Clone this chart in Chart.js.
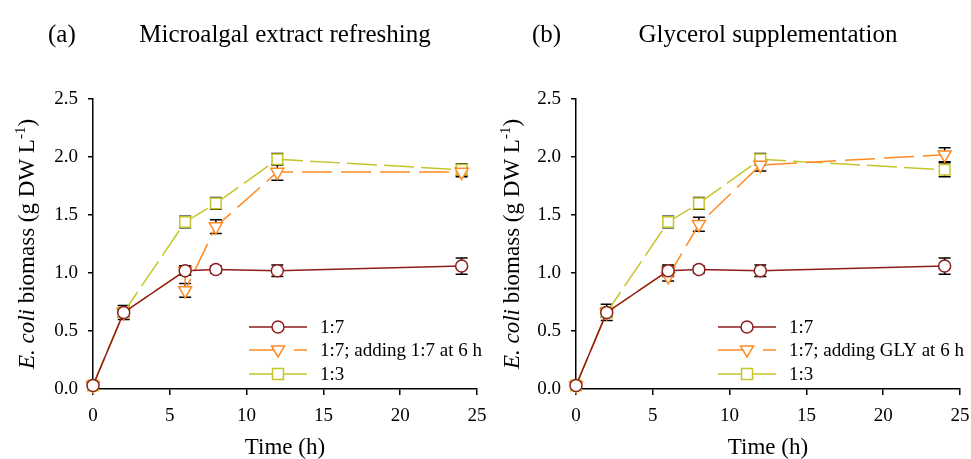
<!DOCTYPE html>
<html>
<head>
<meta charset="utf-8">
<script src="https://cdn.jsdelivr.net/npm/chart.js@4.4.1/dist/chart.umd.min.js"></script>
<style>
  html, body { margin: 0; background: #fff; overflow: hidden; }
  .panel { position: absolute; top: 0; height: 459px; }
  #pa { left: 0; width: 520px; }
  #pb { left: 485px; width: 500px; }
</style>
</head>
<body>
<div class="panel" id="pa"><canvas id="chartA"></canvas></div>
<div class="panel" id="pb"><canvas id="chartB"></canvas></div>
<script>
// sampling times (h)
const times = [0, 2, 6, 8, 12, 24];
const timesAdd = [0, 2, 6, 6, 8, 12, 24]; // two readings at 6 h (before / after addition)

// panel (a) Microalgal extract refreshing
const a_r17 = [0.03, 0.66, 1.02, 1.03, 1.02, 1.06];
const a_r17Err = [0.02, 0.06, 0.04, 0.03, 0.05, 0.07];
const a_add = [0.03, 0.66, 1.02, 0.85, 1.40, 1.87, 1.87];
const a_addErr = [0.02, 0.04, 0.04, 0.06, 0.06, 0.07, 0.04];
const a_r13 = [0.03, 0.66, 1.44, 1.60, 1.98, 1.89];
const a_r13Err = [0.02, 0.04, 0.05, 0.05, 0.05, 0.05];

// panel (b) Glycerol supplementation
const b_r17 = [0.03, 0.66, 1.02, 1.03, 1.02, 1.06];
const b_r17Err = [0.02, 0.07, 0.05, 0.03, 0.05, 0.07];
const b_add = [0.03, 0.66, 1.02, 0.97, 1.42, 1.93, 2.02];
const b_addErr = [0.02, 0.04, 0.04, 0.04, 0.06, 0.05, 0.06];
const b_r13 = [0.03, 0.66, 1.44, 1.60, 1.98, 1.89];
const b_r13Err = [0.02, 0.04, 0.05, 0.05, 0.05, 0.06];

const xTicks = [0, 5, 10, 15, 20, 25];
const yTicks = [0, 0.5, 1.0, 1.5, 2.0, 2.5];

const RED = '#8e1e1e', ORANGE = '#ff8a22', YG = '#c5c52a';
const SERIF = '"Liberation Serif", "Times New Roman", serif';

function pts(xs, ys) { return xs.map((x, i) => ({ x: x, y: ys[i] })); }

function makeSets(r17, r17e, add, adde, r13, r13e, addLabel) {
  return [
    { label: '1:7', data: pts(times, r17), err: r17e, borderColor: RED, pointStyle: 'circle', pointRadius: 6, borderDash: [] },
    { label: addLabel, data: pts(timesAdd, add), err: adde, borderColor: ORANGE, pointStyle: 'triangle', rotation: 180, pointRadius: 7.5, borderDash: [30, 9] },
    { label: '1:3', data: pts(times, r13), err: r13e, borderColor: YG, pointStyle: 'rect', pointRadius: 7.5, borderDash: [30, 7] }
  ].map(d => Object.assign({
    backgroundColor: '#fff', pointBackgroundColor: '#fff', pointBorderColor: d.borderColor,
    borderWidth: 1.5, pointBorderWidth: 1.5, tension: 0, clip: false
  }, d));
}

// error bars drawn through the scales
const errorBars = {
  id: 'errorBars',
  beforeDatasetsDraw(chart) {
    const ctx = chart.ctx, xs = chart.scales.x, ys = chart.scales.y;
    ctx.save();
    ctx.strokeStyle = '#000';
    ctx.lineWidth = 1.5;
    chart.data.datasets.forEach(ds => {
      ds.data.forEach((p, i) => {
        const e = ds.err[i];
        if (!e) return;
        const px = xs.getPixelForValue(p.x);
        const y1 = ys.getPixelForValue(p.y - e), y2 = ys.getPixelForValue(p.y + e);
        ctx.beginPath();
        ctx.moveTo(px, y1); ctx.lineTo(px, y2);
        ctx.moveTo(px - 6, y1); ctx.lineTo(px + 6, y1);
        ctx.moveTo(px - 6, y2); ctx.lineTo(px + 6, y2);
        ctx.stroke();
      });
    });
    ctx.restore();
  }
};

// titles, y-axis title with italic part, legend
const decorations = {
  id: 'decorations',
  afterDraw(chart) {
    const o = chart.options.plugins.decorations;
    const ctx = chart.ctx, ca = chart.chartArea;
    ctx.save();
    ctx.fillStyle = '#000';
    ctx.textBaseline = 'alphabetic';
    ctx.font = '25px ' + SERIF;
    ctx.textAlign = 'left';
    ctx.fillText(o.letter, o.letterX, 42);
    ctx.textAlign = 'center';
    ctx.fillText(o.title, o.titleX, 42);

    // y axis title
    ctx.translate(34, (ca.top + ca.bottom) / 2);
    ctx.rotate(-Math.PI / 2);
    const parts = [
      { t: 'E. coli', f: 'italic 23px ' + SERIF },
      { t: ' biomass (g DW L', f: '23px ' + SERIF },
      { t: '-1', f: '15px ' + SERIF, sup: true },
      { t: ')', f: '23px ' + SERIF }
    ];
    let w = 0;
    parts.forEach(p => { ctx.font = p.f; p.w = ctx.measureText(p.t).width; w += p.w; });
    let x = -w / 2;
    ctx.textAlign = 'left';
    parts.forEach(p => {
      ctx.font = p.f;
      ctx.fillText(p.t, x, p.sup ? -9 : 0);
      x += p.w;
    });
    ctx.setTransform(1, 0, 0, 1, 0, 0);

    // legend
    const lx0 = ca.left + o.legX, lx1 = lx0 + 58, mx = lx0 + 29, tx = lx0 + 71;
    const rows = [327, 350, 374];
    ctx.font = '19px ' + SERIF;
    ctx.textBaseline = 'middle';
    chart.data.datasets.forEach((ds, i) => {
      const y = rows[i];
      ctx.strokeStyle = ds.borderColor;
      ctx.lineWidth = 1.5;
      ctx.beginPath();
      ctx.moveTo(lx0, y); ctx.lineTo(mx, y);
      ctx.moveTo(ds.label.length > 3 ? mx + 16 : mx, y); ctx.lineTo(lx1, y);
      ctx.stroke();
      ctx.fillStyle = '#fff';
      ctx.beginPath();
      if (ds.pointStyle === 'circle') {
        ctx.arc(mx, y, 6, 0, Math.PI * 2);
      } else if (ds.pointStyle === 'rect') {
        ctx.rect(mx - 5.5, y - 5.5, 11, 11);
      } else {
        ctx.moveTo(mx - 6.5, y - 4); ctx.lineTo(mx + 6.5, y - 4); ctx.lineTo(mx, y + 7); ctx.closePath();
      }
      ctx.fill(); ctx.stroke();
      ctx.fillStyle = '#000';
      ctx.textAlign = 'left';
      ctx.fillText(ds.label, tx, y + 1);
    });
    ctx.restore();
  }
};

function makeChart(id, sets, deco, leftW, rightPad) {
  return new Chart(document.getElementById(id), {
    type: 'line',
    data: { datasets: sets },
    options: {
      responsive: true,
      maintainAspectRatio: false,
      animation: false,
      layout: { autoPadding: false, padding: { top: 99, right: rightPad, bottom: 0, left: 0 } },
      plugins: { legend: { display: false }, tooltip: { enabled: false }, decorations: deco },
      scales: {
        x: {
          type: 'linear', min: 0, max: 25,
          afterBuildTicks: s => { s.ticks = xTicks.map(v => ({ value: v })); },
          afterFit: s => { s.height = 70; },
          grid: { drawOnChartArea: false, drawTicks: true, tickLength: 6, color: '#000', lineWidth: 1.5 },
          border: { display: true, color: '#000', width: 1.5 },
          ticks: { color: '#000', font: { family: SERIF, size: 19 }, padding: 10 },
          title: { display: true, text: 'Time (h)', color: '#000', font: { family: SERIF, size: 23 }, padding: { top: 10, bottom: -3 } }
        },
        y: {
          type: 'linear', min: 0, max: 2.5,
          afterBuildTicks: s => { s.ticks = yTicks.map(v => ({ value: v })); },
          afterFit: s => { s.width = leftW; },
          grid: { drawOnChartArea: false, drawTicks: true, tickLength: 5, color: '#000', lineWidth: 1.5 },
          border: { display: true, color: '#000', width: 1.5 },
          ticks: { color: '#000', font: { family: SERIF, size: 19 }, padding: 10, callback: v => v.toFixed(1) }
        }
      }
    },
    plugins: [errorBars, decorations]
  });
}

makeChart('chartA', makeSets(a_r17, a_r17Err, a_add, a_addErr, a_r13, a_r13Err, '1:7; adding 1:7 at 6 h'),
  { letter: '(a)', letterX: 48, title: 'Microalgal extract refreshing', titleX: 285, legX: 156 }, 93, 43);
makeChart('chartB', makeSets(b_r17, b_r17Err, b_add, b_addErr, b_r13, b_r13Err, '1:7; adding GLY at 6 h'),
  { letter: '(b)', letterX: 47, title: 'Glycerol supplementation', titleX: 283, legX: 142 }, 91, 25);
</script>
</body>
</html>
